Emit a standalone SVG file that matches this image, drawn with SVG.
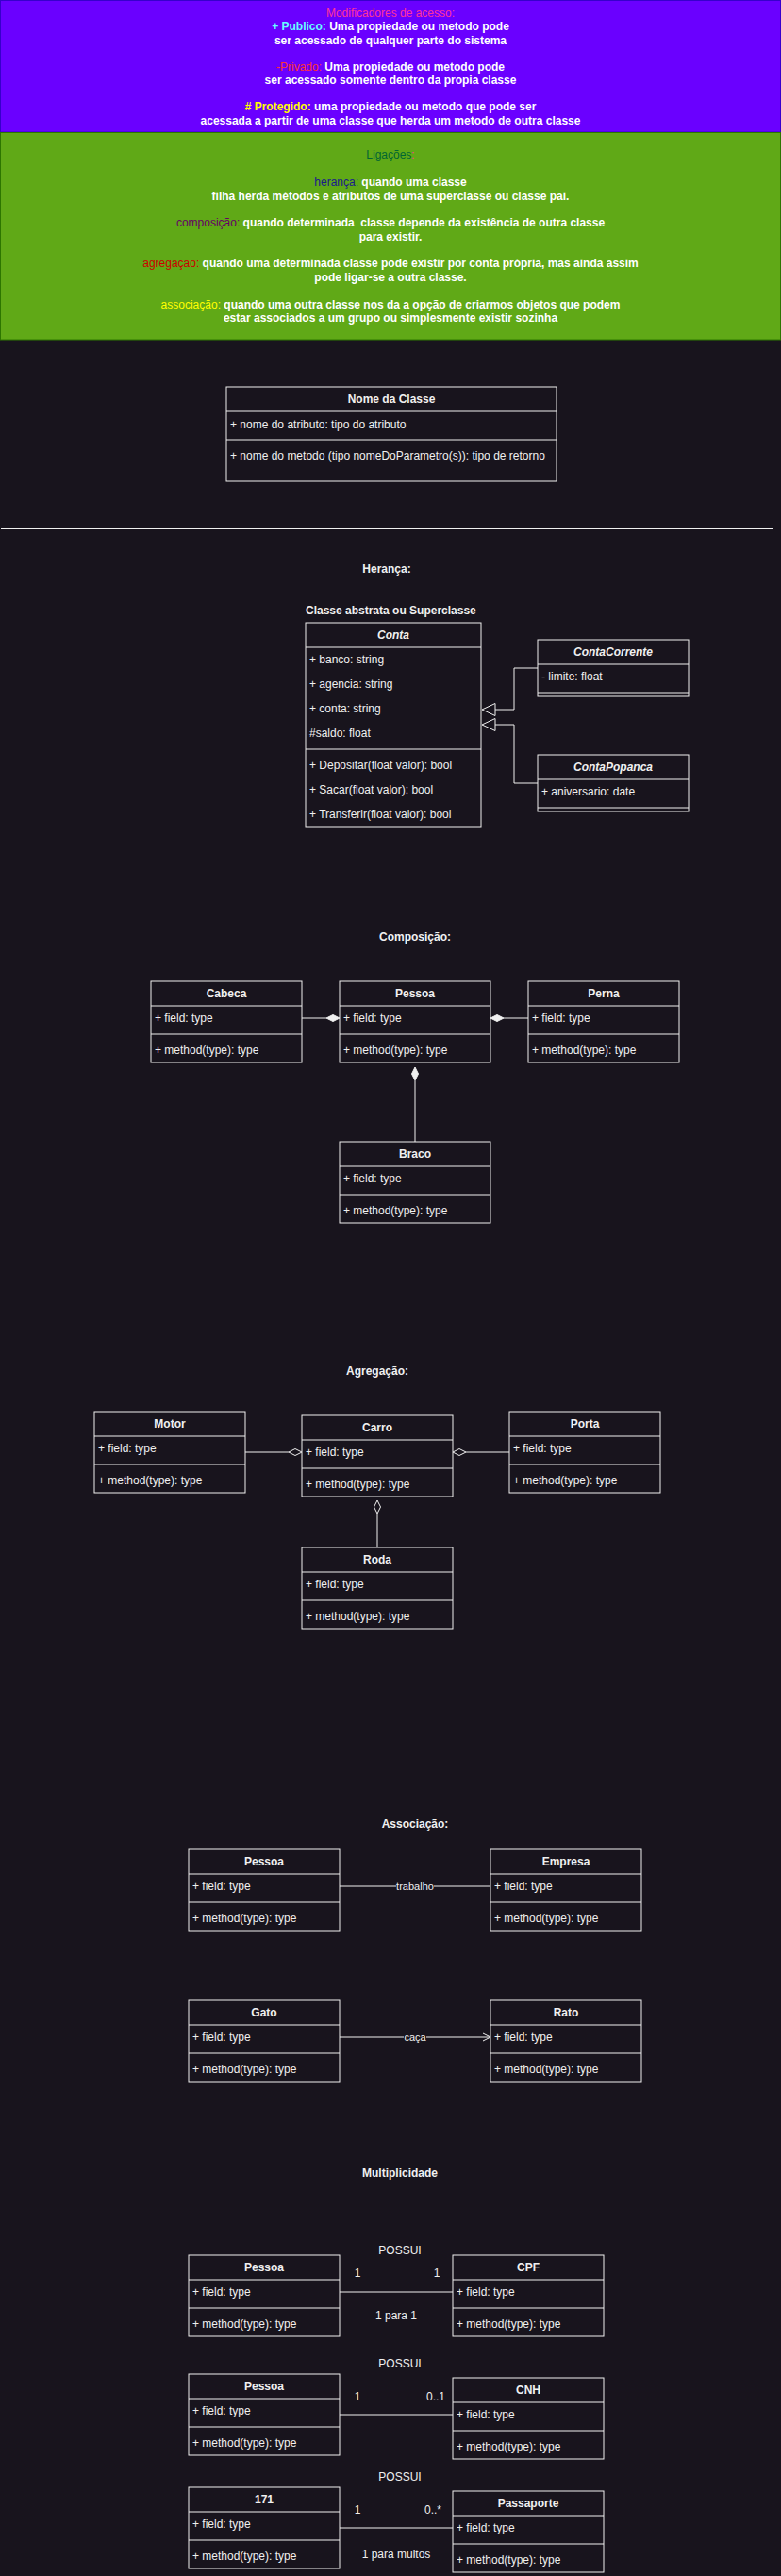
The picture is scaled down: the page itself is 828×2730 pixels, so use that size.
<svg xmlns="http://www.w3.org/2000/svg" width="828" height="2730" viewBox="0 0 828 2730">
<style>
.t{font-family:"Liberation Sans",Arial,Helvetica,sans-serif;font-size:12px;fill:#f0f0f0}
.m{text-anchor:middle}
.b{font-weight:bold}
.i{font-style:italic}
.w{fill:#ffffff;font-weight:bold}
.box{fill:#18141d;stroke:#f0f0f0;stroke-width:1}
.ln{stroke:#f0f0f0;stroke-width:1;fill:none}
.lbl{font-family:"Liberation Sans",Arial,Helvetica,sans-serif;font-size:11px;fill:#f0f0f0;text-anchor:middle}
</style>
<rect x="0" y="0" width="828" height="2730" fill="#18141d"/>

<g id="modificadores">
<rect x="0.5" y="0.5" width="827" height="139.5" fill="#6a00ff" stroke="#3700cc"/>
<text class="t m" x="414" y="17.5" fill="#ff3399" style="fill:#ff3399">Modificadores de acesso:</text>
<text class="t m" x="414" y="32"><tspan style="fill:#66ffff;font-weight:bold">+ Publico:</tspan><tspan class="w"> Uma propiedade ou metodo pode</tspan></text>
<text class="t m w" x="414" y="46.5">ser acessado de qualquer parte do sistema</text>
<text class="t m" x="414" y="74.5"><tspan style="fill:#ff3333">-Privado:</tspan><tspan class="w"> Uma propiedade ou metodo pode</tspan></text>
<text class="t m w" x="414" y="89">ser acessado somente dentro da propia classe</text>
<text class="t m" x="414" y="117"><tspan style="fill:#ffff00;font-weight:bold"># Protegido:</tspan><tspan class="w"> uma propiedade ou metodo que pode ser</tspan></text>
<text class="t m w" x="414" y="132">acessada a partir de uma classe que herda um metodo de outra classe</text>
</g>

<g id="ligacoes">
<rect x="0.5" y="140.5" width="827" height="219.5" fill="#60a917" stroke="#2d7600"/>
<text class="t m" x="414" y="168"><tspan style="fill:#006633">Ligações</tspan><tspan style="fill:#ff3399">:</tspan></text>
<text class="t m" x="414" y="197"><tspan style="fill:#1a1a8c">herança:</tspan><tspan class="w"> quando uma classe</tspan></text>
<text class="t m w" x="414" y="211.5">filha herda métodos e atributos de uma superclasse ou classe pai.</text>
<text class="t m" x="414" y="240" xml:space="preserve"><tspan style="fill:#660066">composição:</tspan><tspan class="w"> quando determinada  classe depende da existência de outra classe</tspan></text>
<text class="t m w" x="414" y="254.5">para existir.</text>
<text class="t m" x="414" y="282.5"><tspan style="fill:#cc0000">agregação:</tspan><tspan class="w"> quando uma determinada classe pode existir por conta própria, mas ainda assim</tspan></text>
<text class="t m w" x="414" y="297.5">pode ligar-se a outra classe.</text>
<text class="t m" x="414" y="327"><tspan style="fill:#ffff00">associação:</tspan><tspan class="w"> quando uma outra classe nos da a opção de criarmos objetos que podem</tspan></text>
<text class="t m w" x="414" y="341">estar associados a um grupo ou simplesmente existir sozinha</text>
</g>

<g id="nome-da-classe">
<rect class="box" x="240" y="410" width="350" height="100"/>
<line class="ln" x1="240" y1="436" x2="590" y2="436"/>
<line class="ln" x1="240" y1="466" x2="590" y2="466"/>
<text class="t m b" x="415" y="427">Nome da Classe</text>
<text class="t" x="244" y="454">+ nome do atributo: tipo do atributo</text>
<text class="t" x="244" y="487">+ nome do metodo (tipo nomeDoParametro(s)): tipo de retorno</text>
</g>

<g id="separador">
<line class="ln" x1="1" y1="560.5" x2="820" y2="560.5"/>
</g>

<g id="titulos">
<text class="t m b" x="410" y="607">Herança:</text>
<text class="t b" x="324" y="651">Classe abstrata ou Superclasse</text>
<text class="t m b" x="440" y="997">Composição:</text>
<text class="t m b" x="400" y="1457">Agregação:</text>
<text class="t m b" x="440" y="1937">Associação:</text>
<text class="t m b" x="424" y="2307">Multiplicidade</text>
</g>

<g id="conta">
<rect class="box" x="324" y="660" width="186" height="216"/>
<line class="ln" x1="324" y1="686" x2="510" y2="686"/>
<line class="ln" x1="324" y1="794" x2="510" y2="794"/>
<text class="t m b i" x="417" y="677">Conta</text>
<text class="t" x="328" y="703">+ banco: string</text>
<text class="t" x="328" y="729">+ agencia: string</text>
<text class="t" x="328" y="755">+ conta: string</text>
<text class="t" x="328" y="781">#saldo: float</text>
<text class="t" x="328" y="815">+ Depositar(float valor): bool</text>
<text class="t" x="328" y="841">+ Sacar(float valor): bool</text>
<text class="t" x="328" y="867">+ Transferir(float valor): bool</text>
</g>

<g id="conta-corrente">
<rect class="box" x="570" y="678" width="160" height="60"/>
<line class="ln" x1="570" y1="704" x2="730" y2="704"/>
<line class="ln" x1="570" y1="734" x2="730" y2="734"/>
<text class="t m b i" x="650" y="695">ContaCorrente</text>
<text class="t" x="574" y="721">- limite: float</text>
</g>

<g id="conta-popanca">
<rect class="box" x="570" y="800" width="160" height="60"/>
<line class="ln" x1="570" y1="826" x2="730" y2="826"/>
<line class="ln" x1="570" y1="856" x2="730" y2="856"/>
<text class="t m b i" x="650" y="817">ContaPopanca</text>
<text class="t" x="574" y="843">+ aniversario: date</text>
</g>

<g id="cabeca">
<rect class="box" x="160" y="1040" width="160" height="86"/>
<line class="ln" x1="160" y1="1066" x2="320" y2="1066"/>
<line class="ln" x1="160" y1="1096" x2="320" y2="1096"/>
<text class="t m b" x="240" y="1057">Cabeca</text>
<text class="t" x="164" y="1083">+ field: type</text>
<text class="t" x="164" y="1117">+ method(type): type</text>
</g>
<g id="pessoa-comp">
<rect class="box" x="360" y="1040" width="160" height="86"/>
<line class="ln" x1="360" y1="1066" x2="520" y2="1066"/>
<line class="ln" x1="360" y1="1096" x2="520" y2="1096"/>
<text class="t m b" x="440" y="1057">Pessoa</text>
<text class="t" x="364" y="1083">+ field: type</text>
<text class="t" x="364" y="1117">+ method(type): type</text>
</g>
<g id="perna">
<rect class="box" x="560" y="1040" width="160" height="86"/>
<line class="ln" x1="560" y1="1066" x2="720" y2="1066"/>
<line class="ln" x1="560" y1="1096" x2="720" y2="1096"/>
<text class="t m b" x="640" y="1057">Perna</text>
<text class="t" x="564" y="1083">+ field: type</text>
<text class="t" x="564" y="1117">+ method(type): type</text>
</g>
<g id="braco">
<rect class="box" x="360" y="1210" width="160" height="86"/>
<line class="ln" x1="360" y1="1236" x2="520" y2="1236"/>
<line class="ln" x1="360" y1="1266" x2="520" y2="1266"/>
<text class="t m b" x="440" y="1227">Braco</text>
<text class="t" x="364" y="1253">+ field: type</text>
<text class="t" x="364" y="1287">+ method(type): type</text>
</g>

<g id="motor">
<rect class="box" x="100" y="1496" width="160" height="86"/>
<line class="ln" x1="100" y1="1522" x2="260" y2="1522"/>
<line class="ln" x1="100" y1="1552" x2="260" y2="1552"/>
<text class="t m b" x="180" y="1513">Motor</text>
<text class="t" x="104" y="1539">+ field: type</text>
<text class="t" x="104" y="1573">+ method(type): type</text>
</g>
<g id="carro">
<rect class="box" x="320" y="1500" width="160" height="86"/>
<line class="ln" x1="320" y1="1526" x2="480" y2="1526"/>
<line class="ln" x1="320" y1="1556" x2="480" y2="1556"/>
<text class="t m b" x="400" y="1517">Carro</text>
<text class="t" x="324" y="1543">+ field: type</text>
<text class="t" x="324" y="1577">+ method(type): type</text>
</g>
<g id="porta">
<rect class="box" x="540" y="1496" width="160" height="86"/>
<line class="ln" x1="540" y1="1522" x2="700" y2="1522"/>
<line class="ln" x1="540" y1="1552" x2="700" y2="1552"/>
<text class="t m b" x="620" y="1513">Porta</text>
<text class="t" x="544" y="1539">+ field: type</text>
<text class="t" x="544" y="1573">+ method(type): type</text>
</g>
<g id="roda">
<rect class="box" x="320" y="1640" width="160" height="86"/>
<line class="ln" x1="320" y1="1666" x2="480" y2="1666"/>
<line class="ln" x1="320" y1="1696" x2="480" y2="1696"/>
<text class="t m b" x="400" y="1657">Roda</text>
<text class="t" x="324" y="1683">+ field: type</text>
<text class="t" x="324" y="1717">+ method(type): type</text>
</g>

<g id="pessoa-assoc">
<rect class="box" x="200" y="1960" width="160" height="86"/>
<line class="ln" x1="200" y1="1986" x2="360" y2="1986"/>
<line class="ln" x1="200" y1="2016" x2="360" y2="2016"/>
<text class="t m b" x="280" y="1977">Pessoa</text>
<text class="t" x="204" y="2003">+ field: type</text>
<text class="t" x="204" y="2037">+ method(type): type</text>
</g>
<g id="empresa">
<rect class="box" x="520" y="1960" width="160" height="86"/>
<line class="ln" x1="520" y1="1986" x2="680" y2="1986"/>
<line class="ln" x1="520" y1="2016" x2="680" y2="2016"/>
<text class="t m b" x="600" y="1977">Empresa</text>
<text class="t" x="524" y="2003">+ field: type</text>
<text class="t" x="524" y="2037">+ method(type): type</text>
</g>
<g id="gato">
<rect class="box" x="200" y="2120" width="160" height="86"/>
<line class="ln" x1="200" y1="2146" x2="360" y2="2146"/>
<line class="ln" x1="200" y1="2176" x2="360" y2="2176"/>
<text class="t m b" x="280" y="2137">Gato</text>
<text class="t" x="204" y="2163">+ field: type</text>
<text class="t" x="204" y="2197">+ method(type): type</text>
</g>
<g id="rato">
<rect class="box" x="520" y="2120" width="160" height="86"/>
<line class="ln" x1="520" y1="2146" x2="680" y2="2146"/>
<line class="ln" x1="520" y1="2176" x2="680" y2="2176"/>
<text class="t m b" x="600" y="2137">Rato</text>
<text class="t" x="524" y="2163">+ field: type</text>
<text class="t" x="524" y="2197">+ method(type): type</text>
</g>

<g id="pessoa-cpf">
<rect class="box" x="200" y="2390" width="160" height="86"/>
<line class="ln" x1="200" y1="2416" x2="360" y2="2416"/>
<line class="ln" x1="200" y1="2446" x2="360" y2="2446"/>
<text class="t m b" x="280" y="2407">Pessoa</text>
<text class="t" x="204" y="2433">+ field: type</text>
<text class="t" x="204" y="2467">+ method(type): type</text>
</g>
<g id="cpf">
<rect class="box" x="480" y="2390" width="160" height="86"/>
<line class="ln" x1="480" y1="2416" x2="640" y2="2416"/>
<line class="ln" x1="480" y1="2446" x2="640" y2="2446"/>
<text class="t m b" x="560" y="2407">CPF</text>
<text class="t" x="484" y="2433">+ field: type</text>
<text class="t" x="484" y="2467">+ method(type): type</text>
</g>
<g id="pessoa-cnh">
<rect class="box" x="200" y="2516" width="160" height="86"/>
<line class="ln" x1="200" y1="2542" x2="360" y2="2542"/>
<line class="ln" x1="200" y1="2572" x2="360" y2="2572"/>
<text class="t m b" x="280" y="2533">Pessoa</text>
<text class="t" x="204" y="2559">+ field: type</text>
<text class="t" x="204" y="2593">+ method(type): type</text>
</g>
<g id="cnh">
<rect class="box" x="480" y="2520" width="160" height="86"/>
<line class="ln" x1="480" y1="2546" x2="640" y2="2546"/>
<line class="ln" x1="480" y1="2576" x2="640" y2="2576"/>
<text class="t m b" x="560" y="2537">CNH</text>
<text class="t" x="484" y="2563">+ field: type</text>
<text class="t" x="484" y="2597">+ method(type): type</text>
</g>
<g id="c171">
<rect class="box" x="200" y="2636" width="160" height="86"/>
<line class="ln" x1="200" y1="2662" x2="360" y2="2662"/>
<line class="ln" x1="200" y1="2692" x2="360" y2="2692"/>
<text class="t m b" x="280" y="2653">171</text>
<text class="t" x="204" y="2679">+ field: type</text>
<text class="t" x="204" y="2713">+ method(type): type</text>
</g>
<g id="passaporte">
<rect class="box" x="480" y="2640" width="160" height="86"/>
<line class="ln" x1="480" y1="2666" x2="640" y2="2666"/>
<line class="ln" x1="480" y1="2696" x2="640" y2="2696"/>
<text class="t m b" x="560" y="2657">Passaporte</text>
<text class="t" x="484" y="2683">+ field: type</text>
<text class="t" x="484" y="2717">+ method(type): type</text>
</g>

<g id="connectors">
<path class="ln" d="M570,708 H545 V752 H525"/>
<polygon points="525,745.5 511,752 525,758.5" fill="#18141d" stroke="#f0f0f0"/>
<path class="ln" d="M570,830 H545 V768 H525"/>
<polygon points="525,761.5 511,768 525,774.5" fill="#18141d" stroke="#f0f0f0"/>

<line class="ln" x1="320" y1="1079" x2="346" y2="1079"/>
<polygon points="346,1079 353,1075.5 360,1079 353,1082.5" fill="#f0f0f0" stroke="#f0f0f0"/>
<line class="ln" x1="560" y1="1079" x2="534" y2="1079"/>
<polygon points="520,1079 527,1075.5 534,1079 527,1082.5" fill="#f0f0f0" stroke="#f0f0f0"/>
<line class="ln" x1="440" y1="1210" x2="440" y2="1145"/>
<polygon points="440,1131 443.5,1138 440,1145 436.5,1138" fill="#f0f0f0" stroke="#f0f0f0"/>

<line class="ln" x1="260" y1="1539" x2="306" y2="1539"/>
<polygon points="306,1539 313,1535.5 320,1539 313,1542.5" fill="#18141d" stroke="#f0f0f0"/>
<line class="ln" x1="540" y1="1539" x2="494" y2="1539"/>
<polygon points="480,1539 487,1535.5 494,1539 487,1542.5" fill="#18141d" stroke="#f0f0f0"/>
<line class="ln" x1="400" y1="1640" x2="400" y2="1604"/>
<polygon points="400,1590 403.5,1597 400,1604 396.5,1597" fill="#18141d" stroke="#f0f0f0"/>

<line class="ln" x1="360" y1="1999" x2="520" y2="1999"/>
<rect x="420" y="1992" width="40" height="14" fill="#18141d"/>
<text class="lbl" x="440" y="2003">trabalho</text>
<line class="ln" x1="360" y1="2159" x2="519" y2="2159"/>
<polyline class="ln" points="512,2155 520,2159 512,2163"/>
<rect x="428" y="2152" width="24" height="14" fill="#18141d"/>
<text class="lbl" x="440" y="2163">caça</text>

<line class="ln" x1="360" y1="2429" x2="480" y2="2429"/>
<line class="ln" x1="360" y1="2559" x2="480" y2="2559"/>
<line class="ln" x1="360" y1="2679" x2="480" y2="2679"/>
</g>

<g id="multiplicidade-labels">
<text class="t m" x="424" y="2389">POSSUI</text>
<text class="t m" x="379" y="2413">1</text>
<text class="t m" x="463" y="2413">1</text>
<text class="t m" x="420" y="2458">1 para 1</text>
<text class="t m" x="424" y="2509">POSSUI</text>
<text class="t m" x="379" y="2544">1</text>
<text class="t m" x="462" y="2544">0..1</text>
<text class="t m" x="424" y="2629">POSSUI</text>
<text class="t m" x="379" y="2664">1</text>
<text class="t m" x="459" y="2664">0..*</text>
<text class="t m" x="420" y="2711">1 para muitos</text>
</g>
</svg>
